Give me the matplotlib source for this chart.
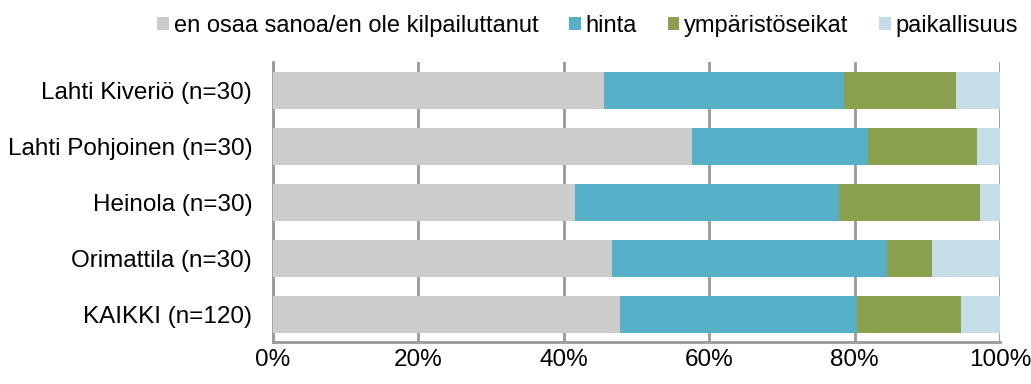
import numpy as np
import matplotlib.pyplot as plt

plt.rcParams['font.family'] = ['Liberation Sans', 'DejaVu Sans']

categories = ["Lahti Kiveriö (n=30)", "Lahti Pohjoinen (n=30)", "Heinola (n=30)",
              "Orimattila (n=30)", "KAIKKI (n=120)"]
series_names = ["en osaa sanoa/en ole kilpailuttanut", "hinta",
                "ympäristöseikat", "paikallisuus"]
en_osaa = [45.5, 57.6, 41.5, 46.6, 47.7]
hinta = [33.0, 24.2, 36.3, 37.8, 32.6]
ymparisto = [15.4, 15.0, 19.4, 6.2, 14.3]
paikallisuus = [6.1, 3.2, 2.8, 9.4, 5.4]
colors = ["#cccccc", "#55b0c8", "#8aa04e", "#c4dde6"]

fig = plt.figure(figsize=(10.31, 3.84), dpi=100)
ax = fig.add_axes([0.2648, 0.109, 0.7052, 0.7295])

y = np.arange(len(categories))
left = np.zeros(len(categories))
handles = []
for name, vals, c in zip(series_names, [en_osaa, hinta, ymparisto, paikallisuus], colors):
    h = ax.barh(y, vals, left=left, height=0.66, color=c, label=name, zorder=3)
    handles.append(h)
    left += np.array(vals)

fs = 17.5
ax.set_xlim(0, 100)
ax.set_ylim(len(categories) - 0.5, -0.5)
ax.set_yticks(y)
ax.set_yticklabels(categories, fontsize=fs)
ax.set_xticks([0, 20, 40, 60, 80, 100])
ax.set_xticklabels(["0%", "20%", "40%", "60%", "80%", "100%"], fontsize=fs)
ax.tick_params(axis='y', length=0, pad=15)
ax.tick_params(axis='x', length=0, pad=5)
ax.xaxis.grid(True, color="#999999", linewidth=2, zorder=0)

for side in ["top", "right"]:
    ax.spines[side].set_visible(False)
for side in ["left", "bottom"]:
    ax.spines[side].set_color("#999999")
    ax.spines[side].set_linewidth(2)

fig.legend(handles=handles, loc="center", bbox_to_anchor=(0.57, 0.932), ncol=4,
           frameon=False, fontsize=17, handlelength=0.5, handleheight=0.5,
           handletextpad=0.2, columnspacing=1.3)

fig.savefig("out.png", dpi=100)
